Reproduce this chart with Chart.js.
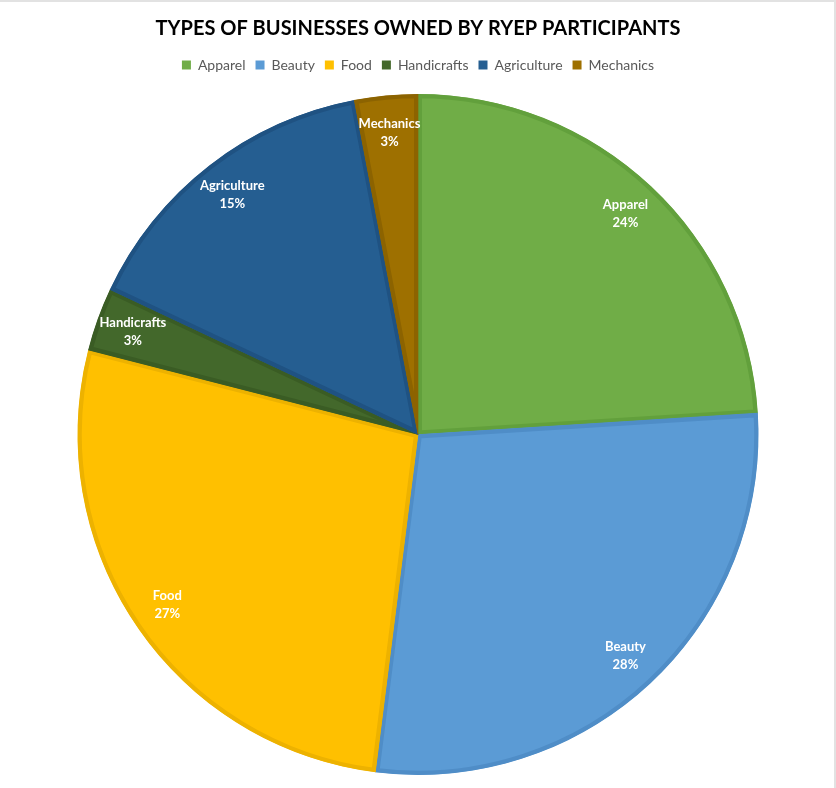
<!DOCTYPE html>
<html>
<head>
<meta charset="utf-8">
<script src="https://cdn.jsdelivr.net/npm/chart.js@4"></script>
<style>
  html, body { margin: 0; padding: 0; background: #fff; }
  #wrap {
    width: 836px; height: 788px; box-sizing: border-box;
    border-top: 2px solid #e2e2e2; border-right: 2px solid #e2e2e2;
    position: relative;
  }
  #wrap canvas { position: absolute; left: 0; top: -2px; }
</style>
</head>
<body>
<div id="wrap"><canvas id="pie" width="836" height="788"></canvas></div>
<script>
const categories = ['Apparel', 'Beauty', 'Food', 'Handicrafts', 'Agriculture', 'Mechanics'];
const shares = [24, 28, 27, 3, 15, 3];
const fills = ['#70AD47', '#5B9BD5', '#FFC000', '#43682B', '#255E91', '#9E7000'];
const edges = ['#62A03C', '#4F8DC7', '#EDB200', '#3A5C24', '#1F5282', '#8C6300'];

// white "Name / NN%" labels inside each slice
const sliceLabels = {
    id: 'sliceLabels',
    afterDatasetsDraw(chart) {
        const ctx = chart.ctx;
        const meta = chart.getDatasetMeta(0);
        ctx.save();
        ctx.fillStyle = '#ffffff';
        ctx.font = 'bold 13px Lato, "Open Sans", sans-serif';
        ctx.textAlign = 'center';
        ctx.textBaseline = 'middle';
        meta.data.forEach((arc, i) => {
            const mid = (arc.startAngle + arc.endAngle) / 2;
            const r = arc.outerRadius * 0.89;
            const x = arc.x + Math.cos(mid) * r;
            const y = arc.y + Math.sin(mid) * r;
            ctx.fillText(categories[i], x, y - 9);
            ctx.fillText(shares[i] + '%', x, y + 9);
        });
        ctx.restore();
    }
};

// extra room between the legend row and the pie
const legendGap = {
    id: 'legendGap',
    beforeInit(chart) {
        const fit = chart.legend.fit;
        chart.legend.fit = function () {
            fit.call(this);
            this.height += 12;
        };
    }
};

new Chart(document.getElementById('pie'), {
    type: 'pie',
    data: {
        labels: categories,
        datasets: [{
            data: shares,
            backgroundColor: fills,
            borderColor: edges,
            borderWidth: 4,
            borderAlign: 'inner'
        }]
    },
    options: {
        responsive: false,
        animation: false,
        layout: { padding: { top: 0, bottom: 13 } },
        plugins: {
            title: {
                display: true,
                text: 'TYPES OF BUSINESSES OWNED BY RYEP PARTICIPANTS',
                color: '#000000',
                font: { family: 'Lato, "Open Sans", sans-serif', size: 20, weight: 'bold' },
                padding: { top: 17, bottom: 7 }
            },
            legend: {
                position: 'top',
                labels: {
                    color: '#595959',
                    font: { family: 'Lato, "Open Sans", sans-serif', size: 14 },
                    boxWidth: 9,
                    boxHeight: 9,
                    padding: 10,
                    generateLabels(chart) {
                        // plain filled squares, no slice outline
                        return Chart.overrides.pie.plugins.legend.labels.generateLabels(chart)
                            .map(item => ({ ...item, lineWidth: 0 }));
                    }
                }
            },
            tooltip: { enabled: false }
        }
    },
    plugins: [sliceLabels, legendGap]
});
</script>
</body>
</html>
